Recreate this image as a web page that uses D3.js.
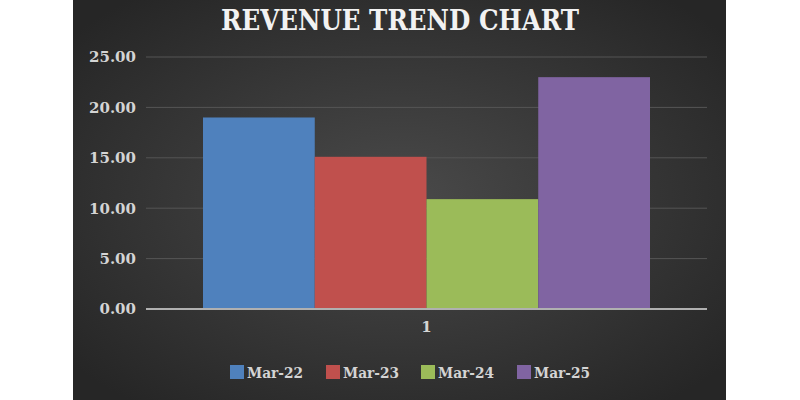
<!DOCTYPE html>
<html>
<head>
<meta charset="utf-8">
<script src="https://cdn.jsdelivr.net/npm/d3@7"></script>
<style>
  body { margin: 0; background: #fff; }
  svg { display: block; }
</style>
</head>
<body>
<svg id="chart" width="800" height="400"></svg>
<script>
// data
let periods = ["Mar-22", "Mar-23", "Mar-24", "Mar-25"];
let revenue = [19.0, 15.1, 10.9, 23.0];
let colors = ["#4f81bd", "#c0504d", "#9bbb59", "#8064a2"];
let yTicks = [0, 5, 10, 15, 20, 25];
let category = ["1"];

let svg = d3.select("#chart");

// dark panel with soft radial light
let defs = svg.append("defs");
let grad = defs.append("radialGradient")
    .attr("id", "bg")
    .attr("cx", "50%").attr("cy", "50%").attr("r", "65%");
grad.append("stop").attr("offset", "0%").attr("stop-color", "#4a4a4a");
grad.append("stop").attr("offset", "100%").attr("stop-color", "#262626");

svg.append("rect")
    .attr("x", 73).attr("y", 0)
    .attr("width", 653).attr("height", 400)
    .attr("fill", "url(#bg)");

let plotL = 146, plotR = 707, plotT = 57, plotB = 309;

let y = d3.scaleLinear().domain([0, 25]).range([plotB, plotT]);
let x0 = d3.scaleBand().domain(category).range([plotL, plotR]).paddingInner(0).paddingOuter(0.1);
let x1 = d3.scaleBand().domain(periods).range([203, 650]).padding(0);

// gridlines
svg.append("g")
    .selectAll("line")
    .data(yTicks.filter(d => d > 0))
    .enter()
    .append("line")
    .attr("x1", plotL).attr("x2", plotR)
    .attr("y1", d => y(d)).attr("y2", d => y(d))
    .attr("stroke", "#555555")
    .attr("stroke-width", 1);

// y labels
let yAxis = svg.append("g")
    .attr("transform", `translate(${plotL - 10},0)`)
    .call(d3.axisLeft(y).tickValues(yTicks).tickFormat(d3.format(".2f")).tickSize(0).tickPadding(0));
yAxis.select(".domain").remove();
yAxis.selectAll("text")
    .attr("fill", "#d4d4d4")
    .style("font-family", "'DejaVu Serif', serif")
    .style("font-weight", "bold")
    .style("font-size", "15px");

// bars
svg.append("g")
    .selectAll("rect")
    .data(revenue)
    .enter()
    .append("rect")
    .attr("x", (d, i) => x1(periods[i]))
    .attr("width", x1.bandwidth())
    .attr("y", d => y(d))
    .attr("height", d => y(0) - y(d))
    .attr("fill", (d, i) => colors[i]);

// x axis
let xAxis = svg.append("g")
    .attr("transform", `translate(0,${plotB})`)
    .call(d3.axisBottom(x0).tickSize(0).tickPadding(12));
xAxis.select(".domain")
    .attr("stroke", "#b0b0b0")
    .attr("stroke-width", 2)
    .attr("d", `M${plotL},0H${plotR}`);
xAxis.selectAll("text")
    .attr("fill", "#d4d4d4")
    .style("font-family", "'DejaVu Serif', serif")
    .style("font-weight", "bold")
    .style("font-size", "15px");

// title
svg.append("text")
    .attr("x", 400).attr("y", 30)
    .attr("text-anchor", "middle")
    .attr("fill", "#f2f2f2")
    .style("font-family", "'DejaVu Serif', serif")
    .style("font-weight", "bold")
    .style("font-size", "27px")
    .attr("textLength", 358)
    .attr("lengthAdjust", "spacingAndGlyphs")
    .text("REVENUE TREND CHART");

// legend
let legX = [230, 326, 421, 517];
let leg = svg.append("g")
    .selectAll(".leg")
    .data(periods)
    .enter()
    .append("g")
    .attr("class", "leg")
    .attr("transform", (d, i) => `translate(${legX[i]}, 365)`);

leg.append("rect")
    .attr("width", 14).attr("height", 14)
    .attr("fill", (d, i) => colors[i]);

leg.append("text")
    .attr("x", 17).attr("y", 13)
    .attr("fill", "#d4d4d4")
    .style("font-family", "'DejaVu Serif', serif")
    .style("font-weight", "bold")
    .style("font-size", "15px")
    .attr("textLength", 56)
    .attr("lengthAdjust", "spacingAndGlyphs")
    .text(d => d);
</script>
</body>
</html>
